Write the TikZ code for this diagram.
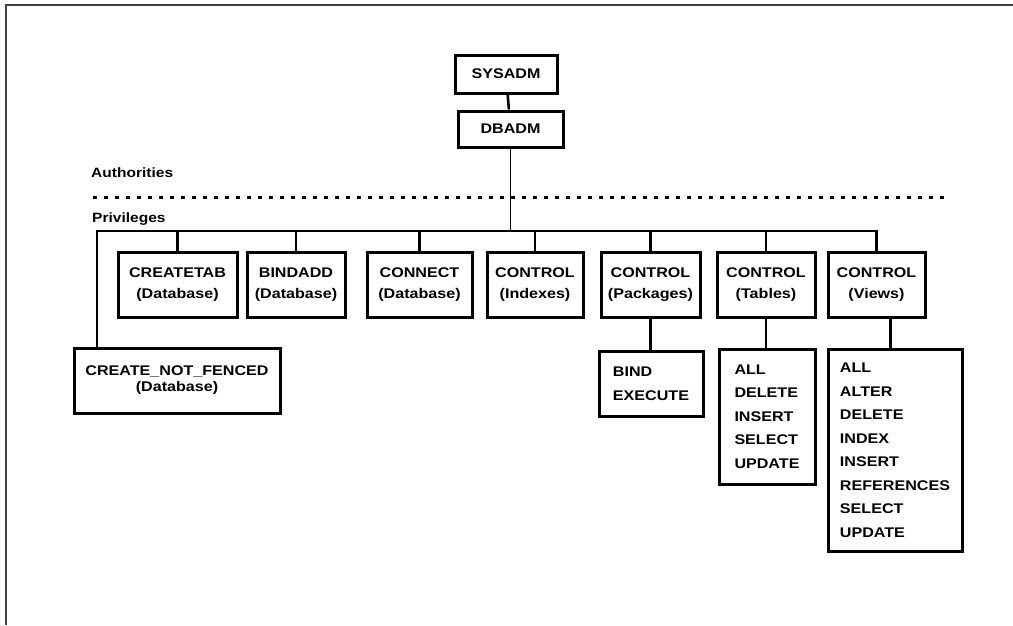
\documentclass[tikz,border=0pt]{standalone}
\usepackage{fontspec}
\setmainfont{Liberation Sans}[FakeStretch=1.15]
\usetikzlibrary{positioning}
\tikzset{
  box/.style={draw, line width=3pt, inner sep=0pt, align=center,
    font=\bfseries\fontsize{14}{21.5}\selectfont},
  listbox/.style={box, align=left, font=\bfseries\fontsize{14}{23.5}\selectfont},
  wire/.style={line width=2.6pt},
  thinwire/.style={line width=1.8pt},
  dotline/.style={line width=3pt, dash pattern=on 4pt off 7pt},
  lbl/.style={inner sep=0pt, font=\bfseries\fontsize{13.5}{16}\selectfont},
  frame/.style={line width=2pt, draw=black!75}
}
\begin{document}
\begin{tikzpicture}[x=1pt, y=-1pt]
        \useasboundingbox (0,0) rectangle (1013,625);
        \path
        (506,74)    coordinate (s)
        (510.5,129) coordinate (d)
        (177.5,284.5) coordinate (p1)
        (296,284.5)   coordinate (p2)
        (419.5,284.5) coordinate (p3)
        (535,284.5)   coordinate (p4)
        (650.5,284.5) coordinate (p5)
        (766,284.5)   coordinate (p6)
        (876.5,284.5) coordinate (p7)
        (177,380.5)   coordinate (p0)
        (651,383.5)   coordinate (l5)
        (767,416.5)   coordinate (l6)
        (895,450)     coordinate (l7)
        (97,231)      coordinate (bus)
        ;

        % outer frame (cut off at right and bottom)
        \draw[frame] (6,625) -- (6,5) -- (1013,5);

        % authorities
        \node[box, minimum width=102, minimum height=38] (sysadm) at (s) {SYSADM};
        \node[box, minimum width=105, minimum height=36] (dbadm) at (d) {DBADM};

        \node[lbl, anchor=west] (auth) at (91,173) {Authorities};
        \draw[dotline] (93,197) -- (950,197);
        \node[lbl, anchor=west] (priv) at (92,219) {Privileges};

        % privileges
        \node[box, minimum width=119, minimum height=65] (createtab) at (p1) {CREATETAB\\(Database)};
        \node[box, minimum width=98, minimum height=65] (bindadd) at (p2) {BINDADD\\(Database)};
        \node[box, minimum width=105, minimum height=65] (connect) at (p3) {CONNECT\\(Database)};
        \node[box, minimum width=96, minimum height=65] (ctlidx) at (p4) {CONTROL\\(Indexes)};
        \node[box, minimum width=99, minimum height=65] (ctlpkg) at (p5) {CONTROL\\(Packages)};
        \node[box, minimum width=98, minimum height=65] (ctltab) at (p6) {CONTROL\\(Tables)};
        \node[box, minimum width=97, minimum height=65] (ctlview) at (p7) {CONTROL\\(Views)};
        \node[box, minimum width=206, minimum height=65,
          font=\bfseries\fontsize{14}{16}\selectfont] (cnf) at (p0) {CREATE\_NOT\_FENCED\\(Database)};

        \node[listbox, minimum width=104, minimum height=65] (pkglist) at (l5) {BIND\\EXECUTE};
        \node[listbox, minimum width=96, minimum height=135] (tablist) at (l6)
          {ALL\\DELETE\\INSERT\\SELECT\\UPDATE};
        \node[listbox, minimum width=134, minimum height=202] (viewlist) at (l7)
          {ALL\\ALTER\\DELETE\\INDEX\\INSERT\\REFERENCES\\SELECT\\UPDATE};

        % connectors
        \draw[wire] (sysadm) -- (dbadm);
        \draw[thinwire] (dbadm.south) -- (dbadm.south |- bus);
        \draw[wire] (cnf.north -| bus) -- (bus) -- (ctlview.north |- bus) -- (ctlview.north);
        \foreach \n in {createtab,bindadd,connect,ctlidx,ctlpkg,ctltab}
          \draw[wire] (\n.north) -- (\n.north |- bus);
        \draw[wire] (ctlpkg.south) -- (ctlpkg.south |- pkglist.north);
        \draw[wire] (ctltab.south) -- (ctltab.south |- tablist.north);
        \draw[wire] ([xshift=14pt]ctlview.south) -- ([xshift=14pt]ctlview.south |- viewlist.north);
\end{tikzpicture}
\end{document}
